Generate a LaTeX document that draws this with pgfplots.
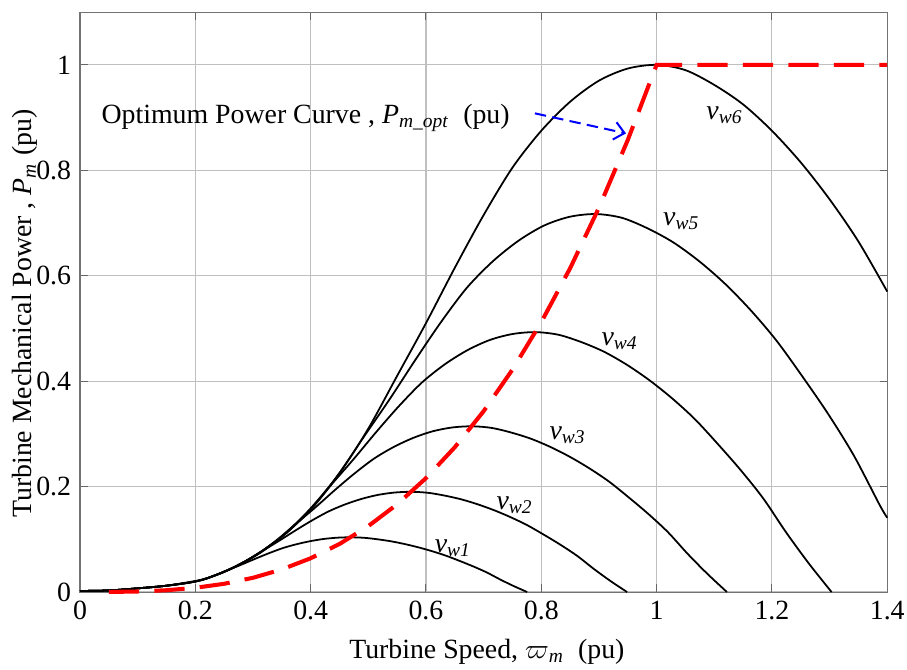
\documentclass[border=0pt]{standalone}
\usepackage{fontspec}
\setmainfont{Liberation Serif}
\usepackage{pgfplots}
\pgfplotsset{compat=1.18}
\usetikzlibrary{arrows.meta}
\newcommand{\lbl}{\rmfamily\fontsize{11}{13}\selectfont}
\newcommand{\vw}[1]{\textit{v}\textsubscript{\textit{w#1}}}

\begin{document}
\begin{tikzpicture}
\begin{axis}[
    scale only axis,
    width=11.22cm, height=8.06cm,
    xmin=0, xmax=1.4, ymin=0, ymax=1.1,
    xtick={0,0.2,0.4,0.6,0.8,1,1.2,1.4},
    xticklabels={\textrm{0},\textrm{0.2},\textrm{0.4},\textrm{0.6},\textrm{0.8},\textrm{1},\textrm{1.2},\textrm{1.4}},
    ytick={0,0.2,0.4,0.6,0.8,1},
    yticklabels={\textrm{0},\textrm{0.2},\textrm{0.4},\textrm{0.6},\textrm{0.8},\textrm{1}},
    tick label style={font=\lbl},
    label style={font=\lbl},
    tick align=inside,
    major tick length=3pt,
    tick style={black!60, thin},
    axis line style={black!55, thin},
    xtick pos=both, ytick pos=both,
    xticklabel pos=lower, yticklabel pos=left,
    grid=major,
    grid style={black!25, line width=0.45pt},
    xlabel={Turbine Speed, $\varpi$\textsubscript{\textit{m}}\ \ (pu)},
    ylabel={Turbine Mechanical Power , \textit{P}\textsubscript{\textit{m}} (pu)},
    x label style={at={(axis description cs:0.504,-0.103)}, anchor=center},
    y label style={at={(axis description cs:-0.068,0.48)}, anchor=center},
    every axis plot/.append style={smooth, tension=0.5},
    clip=false,
]

% v_w6
\addplot[black, line width=0.7pt] coordinates {
(0,0.002) (0.05,0.003) (0.1,0.007) (0.15,0.012) (0.2,0.02) (0.25,0.038) (0.3,0.067)
(0.35,0.105) (0.4,0.156) (0.45,0.225) (0.5,0.31) (0.55,0.41) (0.6,0.51) (0.65,0.615)
(0.7,0.715) (0.75,0.805) (0.8,0.875) (0.85,0.93) (0.9,0.97) (0.95,0.993) (1.0,1.0)
(1.05,0.99) (1.1,0.962) (1.15,0.925) (1.2,0.875) (1.25,0.815) (1.3,0.745) (1.35,0.665) (1.4,0.57)
};

% v_w5
\addplot[black, line width=0.7pt] coordinates {
(0,0.002) (0.05,0.003) (0.1,0.007) (0.15,0.012) (0.2,0.02) (0.224,0.0272) (0.2685,0.048)
(0.313,0.0753) (0.358,0.1118) (0.403,0.1613) (0.4475,0.2223) (0.492,0.294) (0.537,0.3657)
(0.582,0.441) (0.6265,0.5127) (0.671,0.5772) (0.716,0.6274) (0.761,0.6668) (0.8055,0.6955)
(0.850,0.712) (0.895,0.717) (0.940,0.7098) (0.9845,0.6898) (1.029,0.6632) (1.074,0.6274)
(1.119,0.5844) (1.1635,0.5342) (1.208,0.4768) (1.253,0.4087) (1.298,0.337) (1.3425,0.2581)
(1.387,0.1649) (1.4,0.141)
};

% v_w4
\addplot[black, line width=0.7pt] coordinates {
(0,0.002) (0.05,0.003) (0.1,0.007) (0.15,0.012) (0.2,0.02) (0.237,0.033) (0.2765,0.0518)
(0.316,0.0769) (0.3555,0.1109) (0.395,0.1528) (0.4345,0.2021) (0.474,0.2514) (0.5135,0.3032)
(0.553,0.3525) (0.5925,0.3969) (0.632,0.4314) (0.6715,0.4585) (0.711,0.4782) (0.7505,0.4895)
(0.79,0.493) (0.8295,0.4881) (0.869,0.4743) (0.9085,0.456) (0.948,0.4314) (0.9875,0.4018)
(1.027,0.3673) (1.0665,0.3278) (1.106,0.281) (1.1455,0.2317) (1.185,0.1775) (1.2245,0.1134)
(1.264,0.0542) (1.3035,0.0)
};

% v_w3
\addplot[black, line width=0.7pt] coordinates {
(0,0.002) (0.05,0.003) (0.1,0.007) (0.15,0.012) (0.204,0.0211) (0.238,0.033) (0.272,0.049)
(0.306,0.0707) (0.34,0.0975) (0.374,0.1289) (0.408,0.1603) (0.442,0.1934) (0.476,0.2248)
(0.51,0.2531) (0.544,0.2751) (0.578,0.2924) (0.612,0.305) (0.646,0.3122) (0.68,0.3144)
(0.714,0.3113) (0.748,0.3025) (0.782,0.2908) (0.816,0.2751) (0.85,0.2562) (0.884,0.2342)
(0.918,0.2091) (0.952,0.1792) (0.986,0.1478) (1.02,0.1132) (1.054,0.0723) (1.088,0.0346) (1.122,0.0)
};

% v_w2
\addplot[black, line width=0.7pt] coordinates {
(0,0.002) (0.05,0.003) (0.1,0.007) (0.15,0.012) (0.201,0.02) (0.23,0.0297) (0.2588,0.0428)
(0.2875,0.0589) (0.3163,0.0779) (0.345,0.097) (0.3738,0.1169) (0.4025,0.1359) (0.4313,0.153)
(0.46,0.1663) (0.4888,0.1768) (0.5175,0.1844) (0.5463,0.1888) (0.575,0.1901) (0.6038,0.1882)
(0.6325,0.1829) (0.6613,0.1758) (0.69,0.1663) (0.7188,0.1549) (0.7475,0.1416) (0.7763,0.1264)
(0.805,0.1084) (0.8338,0.0893) (0.8625,0.0684) (0.8913,0.0437) (0.92,0.0209) (0.9488,0.0)
};

% v_w1
\addplot[black, line width=0.7pt] coordinates {
(0,0.002) (0.05,0.003) (0.1,0.007) (0.15,0.012) (0.2115,0.0234) (0.235,0.0322) (0.2585,0.0426)
(0.282,0.0529) (0.3055,0.0638) (0.329,0.0742) (0.3525,0.0836) (0.376,0.0908) (0.3995,0.0965)
(0.423,0.1007) (0.4465,0.1031) (0.47,0.1038) (0.4935,0.1028) (0.517,0.0999) (0.5405,0.096)
(0.564,0.0908) (0.5875,0.0846) (0.611,0.0773) (0.6345,0.069) (0.658,0.0592) (0.6815,0.0488)
(0.705,0.0374) (0.7285,0.0239) (0.752,0.0114) (0.7755,0.0)
};

% optimum power curve
\addplot[red, line width=1.6pt, dash pattern=on 12pt off 6pt, sharp plot] coordinates {
(0.05,0.0001) (0.1,0.001) (0.15,0.0034) (0.2,0.008) (0.25,0.0156) (0.3,0.027) (0.35,0.0429)
(0.4,0.064) (0.45,0.0911) (0.5,0.125) (0.55,0.1664) (0.6,0.216) (0.65,0.2746) (0.7,0.343)
(0.75,0.4219) (0.8,0.512) (0.85,0.6141) (0.9,0.729) (0.95,0.8574) (1.0,1.0) (1.4,1.0)
};

% arrow
\addplot[blue, line width=0.8pt, sharp plot, dash pattern=on 4.5pt off 2.5pt, -{Straight Barb[length=4pt,width=7pt]}] coordinates {
(0.789,0.908) (0.947,0.870)
};

\node[anchor=west, font=\lbl] at (axis cs:0.022,0.9) {Optimum Power Curve , \textit{P}\textsubscript{\textit{m\_opt}}\ \ (pu)};

\node[font=\lbl] at (axis cs:1.118,0.905) {\vw{6}};
\node[font=\lbl] at (axis cs:1.043,0.703) {\vw{5}};
\node[font=\lbl] at (axis cs:0.936,0.475) {\vw{4}};
\node[font=\lbl] at (axis cs:0.846,0.298) {\vw{3}};
\node[font=\lbl] at (axis cs:0.754,0.165) {\vw{2}};
\node[font=\lbl] at (axis cs:0.647,0.083) {\vw{1}};

\end{axis}
\pgfresetboundingbox
\path[use as bounding box] (-1.112,-1.07) rectangle (11.495,8.229);
\end{tikzpicture}
\end{document}
